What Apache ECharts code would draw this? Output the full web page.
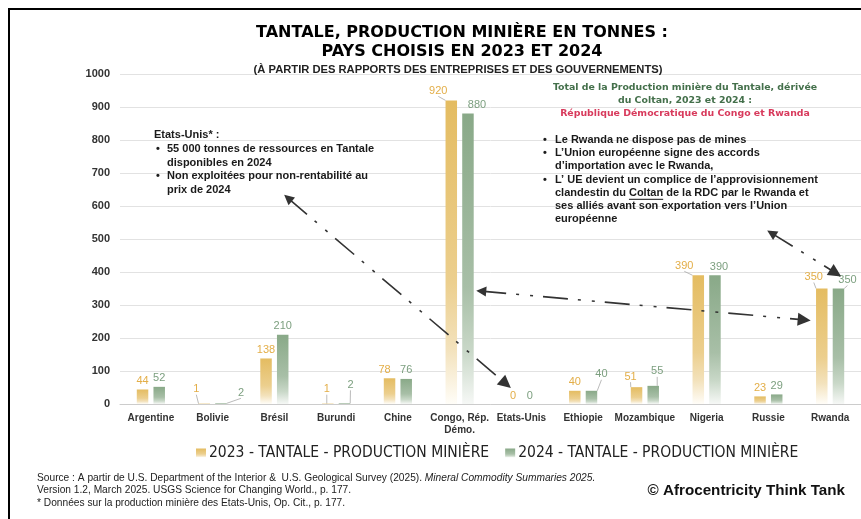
<!DOCTYPE html>
<html><head><meta charset="utf-8">
<script src="https://cdn.jsdelivr.net/npm/echarts@6/dist/echarts.min.js"></script>
<style>html,body{margin:0;padding:0;background:#fff;}#c{width:861px;height:519px;}</style>
</head><body><div id="c"></div>
<script>
// ---------- DATA ----------
const categories = ['Argentine','Bolivie','Brésil','Burundi','Chine','Congo, Rép.\nDémo.','Etats-Unis','Ethiopie','Mozambique','Nigeria','Russie','Rwanda'];
const prod2023 = [44, 1, 138, 1, 78, 920, 0, 40, 51, 390, 23, 350];
const prod2024 = [52, 2, 210, 2, 76, 880, 0, 40, 55, 390, 29, 350];
const seriesNames = ['2023 - TANTALE - PRODUCTION MINIÈRE', '2024 - TANTALE - PRODUCTION MINIÈRE'];
const yMin = 0, yMax = 1000, yStep = 100;
// annotation arrows, in data units: [categoryPosition, value]
const arrowA = [[2.22, 624], [5.75, 61]];
const arrowB = [[5.35, 342], [10.58, 255]];
const arrowC = [[10.05, 518], [11.09, 397]];

const titleLines = ['TANTALE, PRODUCTION MINIÈRE EN TONNES :', 'PAYS CHOISIS EN 2023 ET 2024'];
const subtitle = '(À PARTIR DES RAPPORTS DES ENTREPRISES ET DES GOUVERNEMENTS)';
const usHead = 'Etats-Unis* :';
const usBullets = [['55 000 tonnes de ressources en Tantale', 'disponibles en 2024'], ['Non exploitées pour non-rentabilité au', 'prix de 2024']];
const rdcHead = ['Total de la Production minière du Tantale, dérivée', 'du Coltan, 2023 et 2024 :'];
const rdcRed = 'République Démocratique du Congo et Rwanda';
const rdcBullets = [['Le Rwanda ne dispose pas de mines'], ['L\u2019Union européenne signe des accords', 'd\u2019importation avec le Rwanda,'], ['L\u2019 UE devient un complice de l\u2019approvisionnement', 'clandestin du Coltan de la RDC par le Rwanda et', 'ses alliés avant son exportation vers l\u2019Union', 'européenne']];
const sourceLines = ['Source : A partir de U.S. Department of the Interior &  U.S. Geological Survey (2025). {i|Mineral Commodity Summaries 2025.}', 'Version 1.2, March 2025. USGS Science for Changing World., p. 177.', '* Données sur la production minière des Etats-Unis, Op. Cit., p. 177.'];
const credit = '\u00A9 Afrocentricity Think Tank';

// ---------- STYLE ----------
const SANS = '"Liberation Sans", Arial, sans-serif';
const HEAVY = '"DejaVu Sans", sans-serif';
const NOTE = 'bold 11px ' + SANS;
const goldLabel = '#E3AE48', greenLabel = '#7C9F7F';
const goldGrad = new echarts.graphic.LinearGradient(0,0,0,1,[{offset:0,color:'#E4BC61'},{offset:0.6,color:'#ECCF8E'},{offset:0.82,color:'#F3E2BC'},{offset:1,color:'#FFFDF8'}]);
const greenGrad = new echarts.graphic.LinearGradient(0,0,0,1,[{offset:0,color:'#89A988'},{offset:0.6,color:'#A8BFA7'},{offset:0.82,color:'#C9D8C8'},{offset:1,color:'#F6F8F6'}]);
// label nudges (px) and callout lines
const shift = [
  {1:[-8,-6], 3:[-1,-6], 4:[-5,0], 5:[-13,-1], 8:[-6,-2], 9:[-14,-1], 11:[-8,-3]},
  {1:[20,-2], 3:[6,-10], 5:[9,0], 7:[10,-8], 8:[4,-6], 9:[4,0], 11:[9,0]}
];
const callout = [[1,3,5,8,9,11],[1,3,7,8,11]];

function barData(vals, si){
  return vals.map((v,i)=> callout[si].includes(i) ? {value:v, labelLine:{show:true}} : v);
}

const chart = echarts.init(document.getElementById('c'), null, {renderer:'canvas'});

function txt(x, y, text, font, fill, align, extra){
  return Object.assign({type:'text', x, y, z:100, silent:true, style:Object.assign({text, font, fill, textAlign:align||'left', textVerticalAlign:'middle'}, extra||{})});
}
const graphics = [
  {type:'rect', shape:{x:9,y:9,width:900,height:600}, style:{fill:'none', stroke:'#000', lineWidth:2}, silent:true, z:-10},
  txt(462, 33, titleLines[0], 'bold 16px '+HEAVY, '#000', 'center'),
  txt(462, 52, titleLines[1], 'bold 16px '+HEAVY, '#000', 'center'),
  txt(458, 70, subtitle, 'bold 11.2px '+SANS, '#222', 'center'),
  txt(154, 135, usHead, NOTE, '#1a1a1a')
];
let yy = 149;
usBullets.forEach(b=>{
  graphics.push(txt(156, yy, '\u2022', NOTE, '#1a1a1a'));
  b.forEach(l=>{ graphics.push(txt(167, yy, l, NOTE, '#1a1a1a')); yy+=13.5; });
});
rdcHead.forEach((l,k)=>graphics.push(txt(685, 88+k*13, l, 'bold 9.4px '+HEAVY, '#44704B', 'center')));
graphics.push(txt(685, 114, rdcRed, 'bold 9.4px '+HEAVY, '#D83A5C', 'center'));
yy = 140;
let coltanY = 0;
rdcBullets.forEach(b=>{
  graphics.push(txt(543, yy, '\u2022', NOTE, '#1a1a1a'));
  b.forEach(l=>{ if (l.indexOf('Coltan')>=0) coltanY = yy; graphics.push(txt(555, yy, l, NOTE, '#1a1a1a')); yy+=13.2; });
});
// underline for "Coltan"
(function(){
  const ctx = document.createElement('canvas').getContext('2d');
  ctx.font = 'bold 11px "Liberation Sans"';
  const pre = ctx.measureText('clandestin du ').width, w = ctx.measureText('Coltan').width;
  graphics.push({type:'line', z:100, silent:true, shape:{x1:555+pre, y1:coltanY+6.5, x2:555+pre+w, y2:coltanY+6.5}, style:{stroke:'#111', lineWidth:1}});
})();
sourceLines.forEach((l,k)=>graphics.push(txt(37, 478+k*12.5, l, '10.2px '+SANS, '#222', 'left', {rich:{i:{fontStyle:'italic', fontSize:10.2, fontFamily:'Liberation Sans', fill:'#222'}}})));
graphics.push(txt(845, 491, credit, 'bold 15.2px '+SANS, '#111', 'right'));

function barSeries(name, vals, grad, lblColor, si){
  return {
    name, type:'bar', data: barData(vals, si), barWidth:11.5, barGap:'45%',
    itemStyle:{color:grad},
    label:{show:true, position:'top', distance:3, color:lblColor, fontSize:11, fontFamily:'Liberation Sans'},
    labelLine:{show:false, lineStyle:{color:'#A8A8A8', width:0.8}},
    labelLayout:(p)=>{ const s = shift[si][p.dataIndex]; return s ? {dx:s[0], dy:s[1]} : {}; },
    z:2
  };
}

const arrowStyle = {color:'#333', width:1.6, type:[25,10,3,11,3,10], opacity:1};
chart.setOption({
  animation:false,
  backgroundColor:'#fff',
  graphic: graphics,
  legend:{
    data: seriesNames, left:191, top:440, itemWidth:10, itemHeight:9, itemGap:16,
    icon:'rect',
    textStyle:{fontSize:15.5, fontFamily:'"Liberation Sans Narrow", "DejaVu Sans Condensed", "Liberation Sans"', color:'#222', padding:[0,0,0,-2]}
  },
  grid:{left:120, top:74, width:746, height:330, containLabel:false},
  xAxis:[
    {type:'category', data:categories, axisTick:{show:false},
     axisLine:{lineStyle:{color:'#CCCCCC', width:1}},
     axisLabel:{interval:0, margin:8, fontSize:10, fontWeight:'bold', fontFamily:'Liberation Sans', color:'#333', lineHeight:12}},
    {type:'value', min:-0.5, max:11.5, show:false}
  ],
  yAxis:{type:'value', min:yMin, max:yMax, interval:yStep,
    axisLine:{show:false}, axisTick:{show:false},
    splitLine:{lineStyle:{color:'#E2E2E2', width:1}},
    axisLabel:{margin:10, fontSize:11, fontWeight:'bold', fontFamily:'Liberation Sans', color:'#333', formatter:(v)=>String(v)}},
  series:[
    barSeries(seriesNames[0], prod2023, goldGrad, goldLabel, 0),
    barSeries(seriesNames[1], prod2024, greenGrad, greenLabel, 1),
    {type:'lines', coordinateSystem:'cartesian2d', xAxisIndex:1, yAxisIndex:0, silent:true, z:5,
     symbol:['triangle','triangle'], symbolSize:[10,13],
     lineStyle:arrowStyle,
     data:[arrowA, arrowB, arrowC].map(a=>({coords:a}))}
  ]
});
</script></body></html>
